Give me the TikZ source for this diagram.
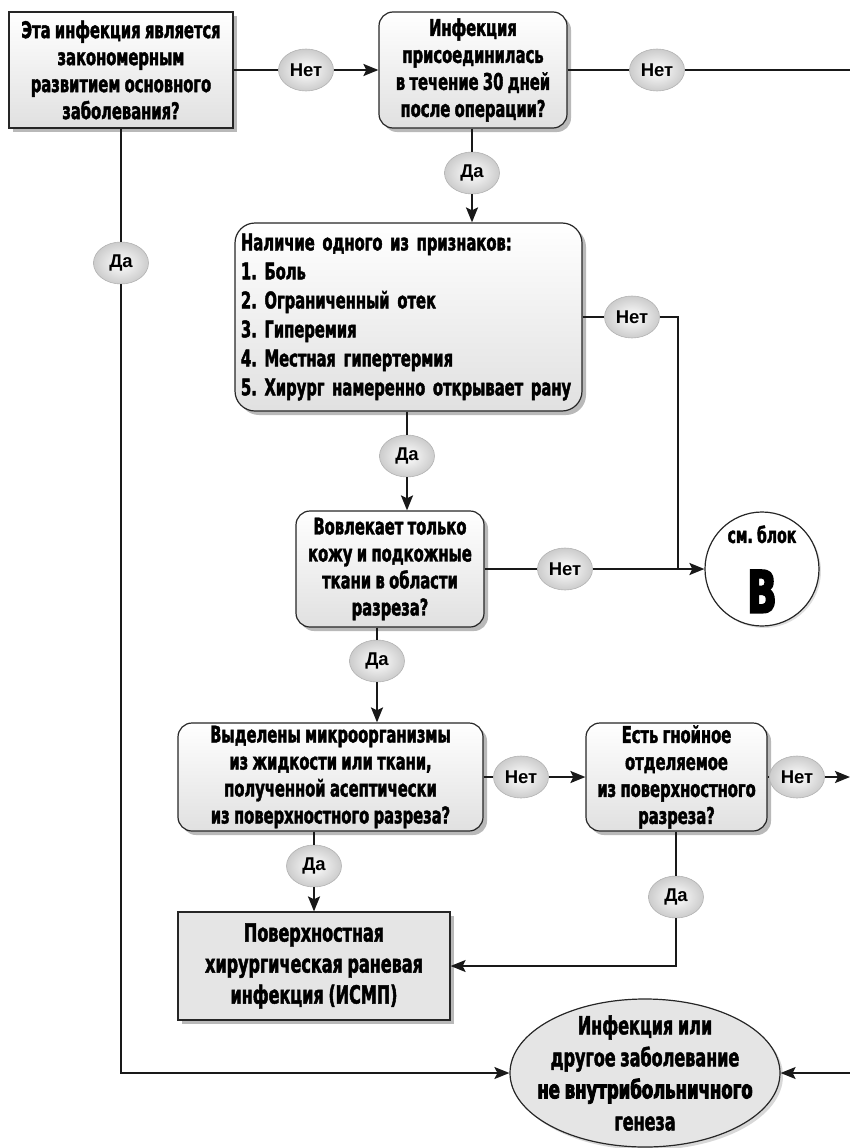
\documentclass[tikz,border=0pt]{standalone}
\usepackage{fontspec}
\setmainfont{DejaVu Sans}
\newfontfamily\cf{DejaVu Sans Bold}[FakeStretch=0.64,FakeBold=1.8,WordSpace=0.85]
\newfontfamily\cfx{DejaVu Sans Bold}[FakeStretch=0.66,FakeBold=3.5,WordSpace=0.85]
\newfontfamily\lf{Liberation Sans Bold}
\usetikzlibrary{shapes.geometric,shadows,arrows.meta}

\begin{document}
\frenchspacing
\begin{tikzpicture}[x=1pt,y=-1pt,
  boxbase/.style={draw=black!85, line width=1.2pt, align=center, inner sep=0pt,
    font=\cf\fontsize{23}{27}\selectfont,
    drop shadow={shadow xshift=4pt, shadow yshift=-4pt, fill=black!55}},
  qbox/.style={boxbase, rounded corners=14pt, top color=white, bottom color=black!12},
  sqbox/.style={boxbase, top color=white, bottom color=black!12},
  endbox/.style={boxbase, fill=black!10},
  lbl/.style={ellipse, minimum width=55pt, minimum height=42pt, inner sep=0pt,
    draw=black!30, line width=0.6pt, inner color=white, outer color=black!20,
    font=\lf\fontsize{18.5}{18.5}\selectfont},
  conn/.style={line width=2.4pt, draw=black!90},
  thinconn/.style={line width=1.5pt, draw=black!90},
  arr/.style={-{Stealth[length=15pt,width=12pt,inset=3pt]}}
]
\useasboundingbox (0,0) rectangle (850,1148);

% decision and result boxes
\node[sqbox, minimum width=224pt, minimum height=116pt] (A) at (121,70)
  {Эта инфекция является\\закономерным\\развитием основного\\заболевания?};
\node[qbox, minimum width=188pt, minimum height=116pt] (B) at (473,70)
  {Инфекция\\присоединилась\\в течение 30 дней\\после операции?};
\node[qbox, rounded corners=20pt, minimum width=347pt, minimum height=188pt,
  text width=335pt, align=left, font=\cf\fontsize{23}{29}\selectfont] (C) at (408.5,317)
  {Наличие одного из признаков:\\1. Боль\\2. Ограниченный отек\\3. Гиперемия\\4. Местная гипертермия\\5. Хирург намеренно открывает рану};
\node[qbox, minimum width=188pt, minimum height=116pt] (D) at (390,569)
  {Вовлекает только\\кожу и подкожные\\ткани в области\\разреза?};
\node[circle, draw=black!85, line width=1.2pt, fill=white, minimum size=114pt, inner sep=0pt,
  align=center, font=\cf\fontsize{22}{27}\selectfont,
  drop shadow={shadow xshift=2pt, shadow yshift=-2pt, fill=black!25}] (Bc) at (762,569)
  {см. блок\\[26pt]{\cfx\fontsize{58}{58}\selectfont B}};
\node[qbox, minimum width=305pt, minimum height=108pt] (E) at (330.5,777)
  {Выделены микроорганизмы\\из жидкости или ткани,\\полученной асептически\\из поверхностного разреза?};
\node[qbox, minimum width=181pt, minimum height=108pt] (F) at (676.5,777)
  {Есть гнойное\\отделяемое\\из поверхностного\\разреза?};
\node[endbox, minimum width=272pt, minimum height=108pt,
  font=\cf\fontsize{25}{31}\selectfont] (G) at (314,966)
  {Поверхностная\\хирургическая раневая\\инфекция (ИСМП)};
\node[ellipse, draw=black!85, line width=1.2pt, fill=black!10, minimum width=270pt,
  minimum height=148pt, inner xsep=-40pt, inner ysep=-30pt, align=center,
  font=\cf\fontsize{25}{32}\selectfont,
  drop shadow={shadow xshift=3pt, shadow yshift=-3pt, fill=black!30}] (H) at (645,1073)
  {Инфекция или\\другое заболевание\\{\cfx не внутрибольничного}\\генеза};

% answer bubbles
\node[lbl] (n1) at (306,70) {Нет};
\node[lbl] (n2) at (657,70) {Нет};
\node[lbl] (n3) at (472,173) {Да};
\node[lbl] (n4) at (121,263) {Да};
\node[lbl] (n5) at (632,317) {Нет};
\node[lbl] (n6) at (407,456) {Да};
\node[lbl] (n7) at (565,569) {Нет};
\node[lbl] (n8) at (377,661) {Да};
\node[lbl] (n9) at (521,777) {Нет};
\node[lbl] (n10) at (797,777) {Нет};
\node[lbl] (n11) at (314,866) {Да};
\node[lbl] (n12) at (676,897) {Да};

% free ends and bends
\coordinate (eR1) at (850,70);
\coordinate (k1) at (678,317);
\coordinate (k2) at (678,569);
\coordinate (eR3) at (850,777);
\coordinate (eR2) at (850,1073);

% connectors
\draw[conn] (A) -- (n1);
\draw[conn,arr] (n1) -- (B);
\draw[thinconn] (B) -- (n2) -- (eR1);
\draw[conn] (B.south -| n3) -- (n3);
\draw[conn,arr] (n3) -- (n3 |- C.north);
\draw[thinconn] (A.south -| n4) -- (n4);
\draw[thinconn,arr] (n4) |- (H);
\draw[thinconn] (C) -- (n5) -- (k1) -- (k2);
\draw[conn] (C.south -| n6) -- (n6);
\draw[conn,arr] (n6) -- (n6 |- D.north);
\draw[conn] (D) -- (n7);
\draw[conn,arr] (n7) -- (Bc);
\draw[conn] (D.south -| n8) -- (n8);
\draw[conn,arr] (n8) -- (n8 |- E.north);
\draw[conn] (E) -- (n9);
\draw[conn,arr] (n9) -- (F);
\draw[conn] (F) -- (n10);
\draw[conn,arr] (n10) -- (eR3);
\draw[conn] (E.south -| n11) -- (n11);
\draw[conn,arr] (n11) -- (G);
\draw[thinconn] (F.south -| n12) -- (n12);
\draw[thinconn,arr] (n12) |- (G);
\draw[thinconn,arr] (eR2) -- (H);
\end{tikzpicture}
\end{document}
